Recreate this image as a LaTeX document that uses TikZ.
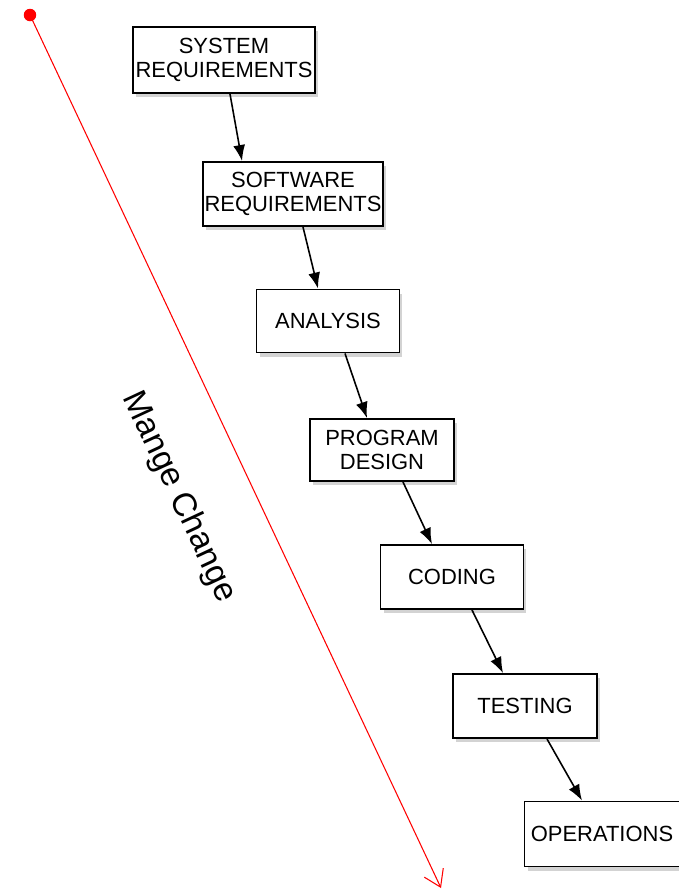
\documentclass[tikz,border=0pt]{standalone}
\usepackage{fontspec}
\setmainfont{Liberation Sans}
\usetikzlibrary{arrows.meta,shadows}
\tikzset{
    phase/.style={draw, line width=1.1pt, fill=white, align=center, inner sep=0pt,
        font=\fontsize{12.5}{14}\selectfont,
        drop shadow={opacity=0.35, shadow xshift=0.06cm, shadow yshift=-0.08cm}},
    flow/.style={-{Latex[length=0.32cm,width=0.24cm]}, line width=0.9pt},
}
\begin{document}
\begin{tikzpicture}[x=0.02cm, y=-0.02cm]
        \useasboundingbox (0, 0) rectangle (679, 894);
        % the phases
        \node [phase, minimum width=3.64cm, minimum height=1.32cm] (sysreq) at (224, 60) {SYSTEM\\REQUIREMENTS};
        \node [phase, minimum width=3.60cm, minimum height=1.28cm] (swreq) at (293, 194) {SOFTWARE\\REQUIREMENTS};
        \node [phase, minimum width=2.86cm, minimum height=1.26cm] (analysis) at (328, 321) {ANALYSIS};
        \node [phase, minimum width=2.88cm, minimum height=1.24cm] (design) at (382, 450) {PROGRAM\\DESIGN};
        \node [phase, minimum width=2.86cm, minimum height=1.28cm] (coding) at (452, 577) {CODING};
        \node [phase, minimum width=2.88cm, minimum height=1.28cm] (testing) at (525, 706) {TESTING};
        \node [phase, minimum width=3.10cm, minimum height=1.30cm] (operations) at (602, 834) {OPERATIONS};
        % connectors
        \draw [flow] ([xshift=0.12cm]sysreq.south) -- ([xshift=-1.02cm]swreq.north);
        \draw [flow] ([xshift=0.20cm]swreq.south) -- ([xshift=-0.20cm]analysis.north);
        \draw [flow] ([xshift=0.34cm]analysis.south) -- ([xshift=-0.30cm]design.north);
        \draw [flow] ([xshift=0.42cm]design.south) -- ([xshift=-0.40cm]coding.north);
        \draw [flow] ([xshift=0.40cm]coding.south) -- ([xshift=-0.44cm]testing.north);
        \draw [flow] ([xshift=0.44cm]testing.south) -- ([xshift=-0.40cm]operations.north);
        % change line
        \node [circle, fill=red, inner sep=0pt, minimum size=0.25cm] (start) at (30, 15) {};
        \coordinate (finish) at (441, 888);
        \draw [red, line width=0.6pt, -{Straight Barb[length=0.32cm, width=0.42cm]}] (start.center) -- (finish);
        \node [rotate=-65, font=\fontsize{19}{22}\selectfont] (change) at (179, 497) {Mange Change};
    \end{tikzpicture}
\end{document}
